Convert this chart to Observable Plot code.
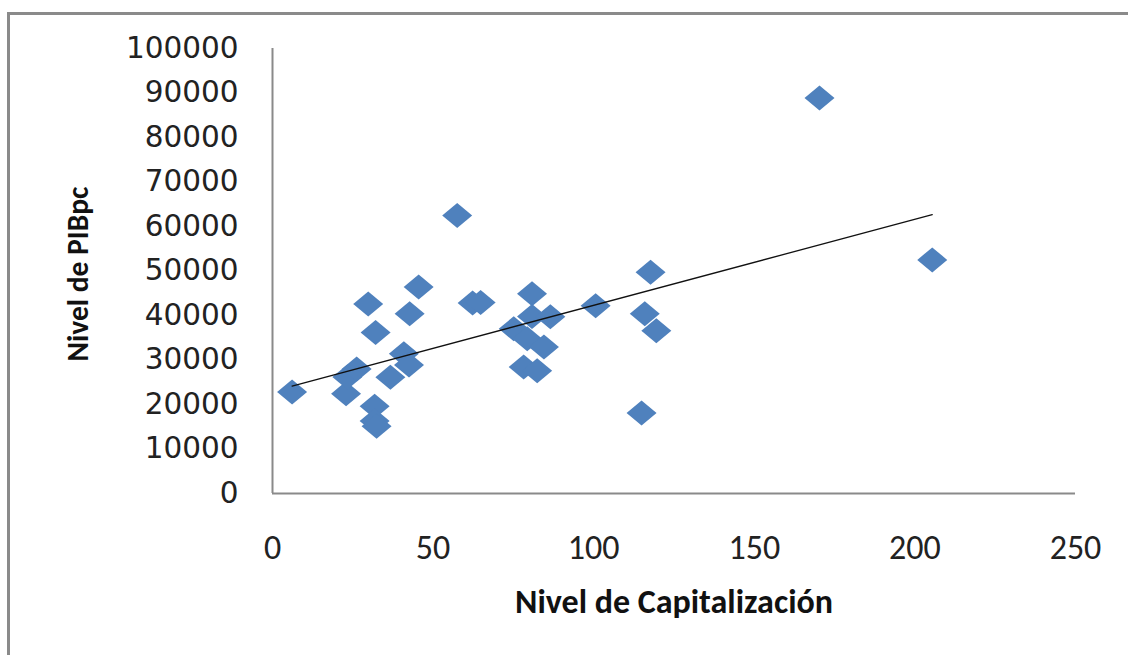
<!DOCTYPE html>
<html>
<head>
<meta charset="utf-8">
<script src="https://cdn.jsdelivr.net/npm/d3@7"></script>
<script src="https://cdn.jsdelivr.net/npm/@observablehq/plot@0.6"></script>
<style>
  html, body { margin: 0; padding: 0; background: #fff; overflow: hidden; }
  #wrap { position: relative; width: 1128px; height: 655px; }
  #frame { position: absolute; left: 7px; top: 12px; width: 1140px; height: 670px;
           border: 3px solid #8a8a8a; box-sizing: border-box; }
  #chart { position: absolute; left: 0; top: 0; }
</style>
</head>
<body>
<div id="wrap"><div id="frame"></div><div id="chart"></div></div>
<script>
// Nivel de Capitalización (x) vs Nivel de PIBpc (y)
const capitalizacion = [6.1, 22.9, 23.3, 26.2, 29.8, 31.8, 31.8, 32.4, 32.1, 36.7, 40.9, 42.5, 42.7, 45.5, 57.5, 62.3, 64.8, 75.1, 78.2, 79.3, 80.8, 80.8, 82.4, 84.5, 86.5, 100.6, 114.9, 115.9, 117.7, 119.5, 170.3, 205.4];
const pibpc = [22800, 22400, 26200, 28000, 42600, 19600, 16300, 15100, 36200, 26100, 31400, 28900, 40400, 46400, 62500, 42800, 42900, 37000, 28400, 34800, 44900, 39800, 27600, 32900, 39700, 42200, 18100, 40400, 49700, 36600, 88900, 52500];
const xTicks = [0, 50, 100, 150, 200, 250];
const yTicks = [0, 10000, 20000, 30000, 40000, 50000, 60000, 70000, 80000, 90000, 100000];
const xTitle = "Nivel de Capitalización";
const yTitle = "Nivel de PIBpc";

const data = capitalizacion.map((x, i) => ({x, y: pibpc[i]}));

// wide diamond like Excel's marker
const diamond = {
  draw(ctx, size) {
    const w = 15, h = 12.5;
    ctx.moveTo(0, -h); ctx.lineTo(w, 0); ctx.lineTo(0, h); ctx.lineTo(-w, 0); ctx.closePath();
  }
};

const titleFont = "Carlito, 'Liberation Sans Narrow', 'Liberation Sans', sans-serif";

const chart = Plot.plot({
  width: 1128,
  height: 655,
  marginLeft: 272,
  marginRight: 53,
  marginTop: 48,
  marginBottom: 162,
  style: {background: "transparent"},
  x: {domain: [0, 250]},
  y: {domain: [0, 100000]},
  marks: [
    Plot.ruleX([0], {stroke: "#8a8a8a", strokeWidth: 2}),
    Plot.ruleY([0], {stroke: "#8a8a8a", strokeWidth: 2}),
    Plot.axisY({ticks: yTicks, tickSize: 0, tickPadding: 34, tickFormat: d => String(d), label: null,
      fontSize: 29.5, fontFamily: "Verdana, 'DejaVu Sans', sans-serif", fill: "#222"}),
    Plot.axisX({ticks: xTicks, tickSize: 0, tickPadding: 41, tickFormat: d => String(d), label: null,
      fontSize: 34, fontFamily: titleFont, fill: "#222"}),
    Plot.dot(data, {x: "x", y: "y", symbol: diamond, fill: "#4f81bd", stroke: "none"}),
    Plot.linearRegressionY(data, {x: "x", y: "y", stroke: "#111", strokeWidth: 1.3, ci: 0}),
    Plot.text([xTitle], {frameAnchor: "bottom", dy: 119, text: d => d, fontWeight: "bold", fontSize: 34,
      fontFamily: titleFont, fill: "#111"}),
    Plot.text([yTitle], {frameAnchor: "left", textAnchor: "middle", dx: -194, dy: 3, rotate: -90, text: d => d,
      fontWeight: "bold", fontSize: 29.5, fontFamily: titleFont, fill: "#111"})
  ]
});
document.getElementById("chart").appendChild(chart);
</script>
</body>
</html>
